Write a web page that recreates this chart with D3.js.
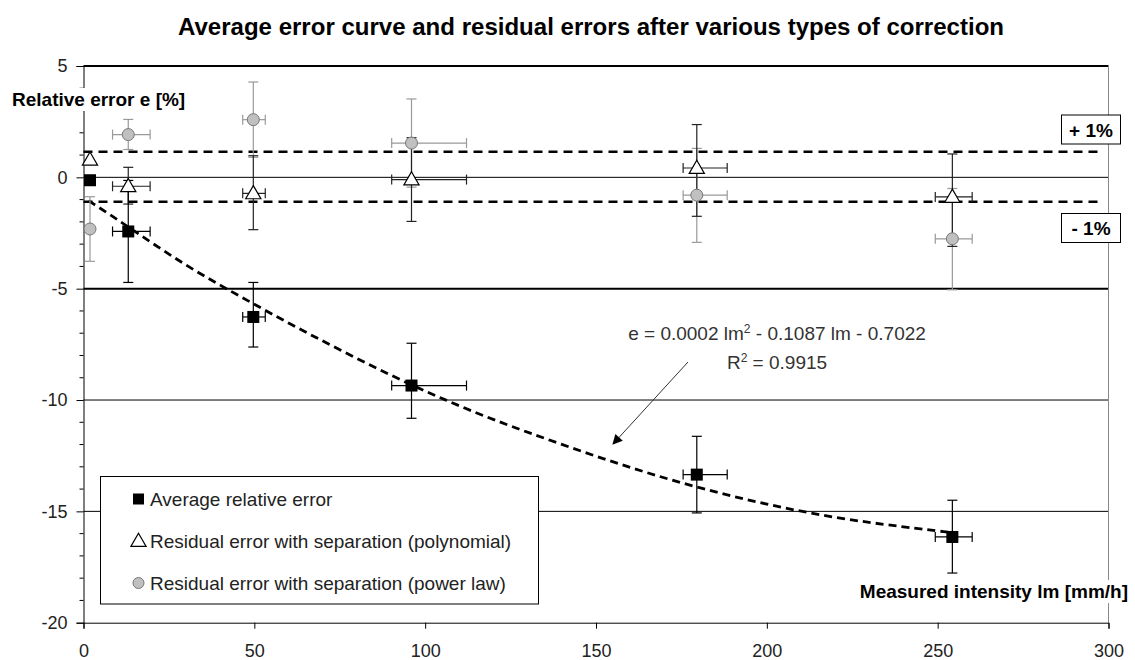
<!DOCTYPE html>
<html>
<head>
<meta charset="utf-8">
<script src="https://cdn.jsdelivr.net/npm/d3@7"></script>
<style>
  html, body { margin: 0; padding: 0; background: #fff; }
  svg { display: block; font-family: "Liberation Sans", Arial, sans-serif; }
</style>
</head>
<body>
<script>
// measured intensity of each class [mm/h]
const intensity = [1.9, 13.1, 49.7, 96.0, 179.5, 254.3];
const xLow  = [null, 8.5, 46.6, 90.2, 175.5, 249.3];
const xHigh = [null, 19.5, 53.2, 112.1, 188.4, 260.1];

// average relative error (squares)
const avgError = [-0.13, -2.43, -6.27, -9.35, -13.35, -16.15];
const avgLow   = [null, -4.72, -7.62, -10.82, -15.07, -17.77];
const avgHigh  = [null, -0.14, -4.72, -7.45, -11.63, -14.5];

// residual error, polynomial separation (triangles)
const polyError = [0.79, -0.4, -0.72, -0.1, 0.42, -0.88];
const polyLow   = [null, -1.2, -2.35, -1.98, -1.75, -3.1];
const polyHigh  = [null, 0.45, 0.97, 1.78, 2.37, 1.05];

// residual error, power law separation (circles)
const powError = [-2.32, 1.92, 2.59, 1.54, -0.8, -2.76];
const powLow   = [-3.77, 1.25, 0.9, -0.44, -2.92, -5.05];
const powHigh  = [-0.87, 2.6, 4.28, 3.52, 1.3, -0.5];

// trend curve
const trendX = [1.5, 10, 20, 30, 40, 50, 60, 75, 90, 105, 120, 140, 160, 180, 200, 220, 240, 254];
const trendY = [-1.05, -1.9, -2.95, -3.95, -4.85, -5.7, -6.55, -7.75, -8.9, -9.95, -10.9, -12.0, -13.05, -13.95, -14.7, -15.3, -15.7, -15.95];

const xTicks = [0, 50, 100, 150, 200, 250, 300];
const yTicks = [5, 0, -5, -10, -15, -20];
const limits = [1.15, -1.1];

const width = 1135, height = 660;
const FONT = 19;
const svg = d3.select('body').append('svg')
  .attr('width', width)
  .attr('height', height);

const x = d3.scaleLinear().domain([0, 300]).range([83.5, 1108.5]);
const y = d3.scaleLinear().domain([-20, 5]).range([622.7, 66]);

/** title */
svg.append('text')
  .attr('x', 591).attr('y', 35)
  .attr('text-anchor', 'middle')
  .attr('font-size', 23).attr('font-weight', 'bold')
  .attr('textLength', 826).attr('lengthAdjust', 'spacingAndGlyphs')
  .text('Average error curve and residual errors after various types of correction');

/** grid lines */
svg.append('g').selectAll('line')
  .data([5, 0, -5, -10, -15])
  .enter().append('line')
  .attr('x1', x(0)).attr('x2', x(300))
  .attr('y1', d => y(d)).attr('y2', d => y(d))
  .attr('stroke', '#000')
  .attr('stroke-width', d => (d === 5 || d === -5) ? 2 : 1);

// right border
svg.append('line')
  .attr('x1', x(300)).attr('x2', x(300))
  .attr('y1', y(5)).attr('y2', y(-20))
  .attr('stroke', '#888').attr('stroke-width', 1);

/** axes */
const yAxis = d3.axisLeft(y).tickValues(yTicks).tickSize(7).tickPadding(9)
  .tickFormat(d => String(d));
const gy = svg.append('g').attr('transform', `translate(${x(0)},0)`).call(yAxis);
// minor ticks every unit
gy.append('g').selectAll('line')
  .data(d3.range(-20, 6).filter(v => v % 5 !== 0))
  .enter().append('line')
  .attr('x1', -4).attr('x2', 0)
  .attr('y1', d => y(d)).attr('y2', d => y(d))
  .attr('stroke', '#000');

const xAxis = d3.axisBottom(x).tickValues(xTicks).tickSize(6).tickPadding(16)
  .tickFormat(d => String(d));
const gx = svg.append('g').attr('transform', `translate(0,${y(-20)})`).call(xAxis);

[gx, gy].forEach(g => {
  g.select('.domain').attr('stroke', '#000');
  g.selectAll('.tick line').attr('stroke', '#000');
  g.selectAll('.tick text')
    .attr('font-size', 18)
    .attr('font-family', '"Liberation Sans", Arial, sans-serif')
    .attr('fill', '#222');
});

/** +/- 1% lines */
svg.append('g').selectAll('line')
  .data(limits)
  .enter().append('line')
  .attr('x1', x(0)).attr('x2', x(298))
  .attr('y1', d => y(d)).attr('y2', d => y(d))
  .attr('stroke', '#000').attr('stroke-width', 2.5)
  .attr('stroke-dasharray', '9,6');

/** trend curve */
const trend = d3.line()
  .x(d => x(d[0]))
  .y(d => y(d[1]))
  .curve(d3.curveBasis);
svg.append('path')
  .datum(d3.zip(trendX, trendY))
  .attr('d', trend)
  .attr('fill', 'none')
  .attr('stroke', '#000').attr('stroke-width', 2.8)
  .attr('stroke-dasharray', '8,5');

/** error bars */
function errorBars(vals, lo, hi, color) {
  const g = svg.append('g').attr('stroke', color).attr('stroke-width', 1.2).attr('fill', 'none');
  const cap = 5;
  vals.forEach((v, i) => {
    const cx = x(intensity[i]), cy = y(v);
    if (lo[i] !== null) {
      g.append('line').attr('x1', cx).attr('x2', cx).attr('y1', y(lo[i])).attr('y2', y(hi[i]));
      g.append('line').attr('x1', cx - cap).attr('x2', cx + cap).attr('y1', y(lo[i])).attr('y2', y(lo[i]));
      g.append('line').attr('x1', cx - cap).attr('x2', cx + cap).attr('y1', y(hi[i])).attr('y2', y(hi[i]));
    }
    if (xLow[i] !== null) {
      g.append('line').attr('x1', x(xLow[i])).attr('x2', x(xHigh[i])).attr('y1', cy).attr('y2', cy);
      g.append('line').attr('x1', x(xLow[i])).attr('x2', x(xLow[i])).attr('y1', cy - cap).attr('y2', cy + cap);
      g.append('line').attr('x1', x(xHigh[i])).attr('x2', x(xHigh[i])).attr('y1', cy - cap).attr('y2', cy + cap);
    }
  });
}
errorBars(powError, powLow, powHigh, '#999');
errorBars(polyError, polyLow, polyHigh, '#222');
errorBars(avgError, avgLow, avgHigh, '#000');

/** markers */
const triangle = d3.symbol().type(d3.symbolTriangle).size(100);
svg.append('g').selectAll('circle')
  .data(powError)
  .enter().append('circle')
  .attr('cx', (d, i) => x(intensity[i]))
  .attr('cy', d => y(d))
  .attr('r', 6)
  .attr('fill', '#c0c0c0').attr('stroke', '#777');

svg.append('g').selectAll('path')
  .data(polyError)
  .enter().append('path')
  .attr('d', triangle)
  .attr('transform', (d, i) => `translate(${x(intensity[i])},${y(d) + 1})`)
  .attr('fill', '#fff').attr('stroke', '#000').attr('stroke-width', 1.2);

svg.append('g').selectAll('rect')
  .data(avgError)
  .enter().append('rect')
  .attr('x', (d, i) => x(intensity[i]) - 6)
  .attr('y', d => y(d) - 6)
  .attr('width', 12).attr('height', 12)
  .attr('fill', '#000');

/** axis titles with white background */
function boxedLabel(tx, ty, anchor, str) {
  const g = svg.append('g');
  const rect = g.append('rect').attr('fill', '#fff');
  const t = g.append('text')
    .attr('x', tx).attr('y', ty)
    .attr('text-anchor', anchor)
    .attr('font-size', FONT).attr('font-weight', 'bold')
    .text(str);
  const b = t.node().getBBox();
  rect.attr('x', b.x - 2).attr('y', b.y - 1).attr('width', b.width + 4).attr('height', b.height + 2);
}
boxedLabel(12, 106, 'start', 'Relative error e [%]');
boxedLabel(1128, 598, 'end', 'Measured intensity lm [mm/h]');

/** +1% / -1% boxes */
const limitLabels = [['+ 1%', 115], ['- 1%', 213.5]];
limitLabels.forEach(([lbl, top]) => {
  svg.append('rect')
    .attr('x', 1061.5).attr('y', top)
    .attr('width', 59).attr('height', 29)
    .attr('fill', '#fff').attr('stroke', '#000');
  svg.append('text')
    .attr('x', 1091).attr('y', top + 21.5)
    .attr('text-anchor', 'middle')
    .attr('font-size', FONT).attr('font-weight', 'bold')
    .text(lbl);
});

/** equation annotation */
const eq = svg.append('text')
  .attr('x', 777).attr('y', 340)
  .attr('text-anchor', 'middle')
  .attr('font-size', FONT).attr('fill', '#333');
eq.append('tspan').text('e = 0.0002 lm');
eq.append('tspan').attr('dy', -7).attr('font-size', 12).text('2');
eq.append('tspan').attr('dy', 7).text(' - 0.1087 lm - 0.7022');

const r2 = svg.append('text')
  .attr('x', 777).attr('y', 369)
  .attr('text-anchor', 'middle')
  .attr('font-size', FONT).attr('fill', '#333');
r2.append('tspan').text('R');
r2.append('tspan').attr('dy', -7).attr('font-size', 12).text('2');
r2.append('tspan').attr('dy', 7).text(' = 0.9915');

svg.append('defs').append('marker')
  .attr('id', 'arrow')
  .attr('viewBox', '0 0 10 10')
  .attr('refX', 9).attr('refY', 5)
  .attr('markerWidth', 14).attr('markerHeight', 10)
  .attr('markerUnits', 'userSpaceOnUse')
  .attr('orient', 'auto')
  .append('path').attr('d', 'M0,0L10,5L0,10z').attr('fill', '#000');

svg.append('line')
  .attr('x1', 688).attr('y1', 362)
  .attr('x2', 613).attr('y2', 444)
  .attr('stroke', '#333').attr('stroke-width', 1)
  .attr('marker-end', 'url(#arrow)');

/** legend */
const legendItems = ['Average relative error',
  'Residual error with separation (polynomial)',
  'Residual error with separation (power law)'];
const legend = svg.append('g');
legend.append('rect')
  .attr('x', 100.5).attr('y', 476.5)
  .attr('width', 438).attr('height', 127.5)
  .attr('fill', '#fff').attr('stroke', '#000');
const rowY = [499, 541, 583];
legendItems.forEach((txt, i) => {
  const cy = rowY[i];
  if (i === 0) {
    legend.append('rect').attr('x', 133).attr('y', cy - 5.5).attr('width', 11).attr('height', 11).attr('fill', '#000');
  } else if (i === 1) {
    legend.append('path').attr('d', triangle).attr('transform', `translate(138.5,${cy + 1})`)
      .attr('fill', '#fff').attr('stroke', '#000').attr('stroke-width', 1.2);
  } else {
    legend.append('circle').attr('cx', 138.5).attr('cy', cy).attr('r', 5.5)
      .attr('fill', '#c0c0c0').attr('stroke', '#777');
  }
  legend.append('text')
    .attr('x', 150).attr('y', cy + 6.5)
    .attr('font-size', FONT).attr('fill', '#222')
    .text(txt);
});
</script>
</body>
</html>
